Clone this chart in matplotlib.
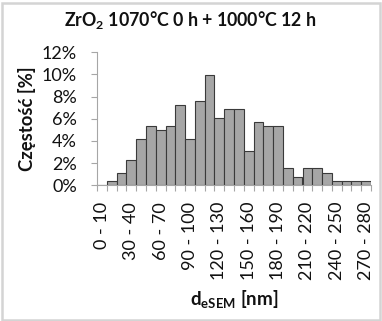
import matplotlib
matplotlib.use("Agg")
import matplotlib.pyplot as plt
from matplotlib.patches import Rectangle
from matplotlib.ticker import FixedLocator, NullFormatter

plt.rcParams['font.family'] = ['Lato', 'DejaVu Sans']
plt.rcParams['mathtext.fontset'] = 'custom'
plt.rcParams['mathtext.rm'] = 'Lato:bold'
plt.rcParams['mathtext.it'] = 'Lato:bold'
plt.rcParams['mathtext.bf'] = 'Lato:bold'

categories = [f"{a} - {a + 10}" for a in range(0, 280, 10)]
percent = [0.0, 0.38, 1.15, 2.29, 4.20, 5.34, 4.96, 5.34, 7.25, 4.20,
           7.63, 9.92, 6.11, 6.87, 6.87, 3.05, 5.73, 5.34, 5.34, 1.53,
           0.76, 1.53, 1.53, 1.15, 0.38, 0.38, 0.38, 0.38]
yticks = [0, 2, 4, 6, 8, 10, 12]
title = "ZrO$_2$ 1070°C 0 h + 1000°C 12 h"
xlabel = "d$_{\\rm eSEM}$ [nm]"
ylabel = "Częstość [%]"

W, H = 382, 321
fig = plt.figure(figsize=(W / 100, H / 100), dpi=100)
fig.patch.set_facecolor('white')

# outer frame
fig.patches.append(Rectangle((1.5 / W, 1.5 / H), (W - 4) / W, (H - 4) / H,
                             transform=fig.transFigure, fill=False,
                             edgecolor='#D4D4D4', linewidth=1.8))

ax = fig.add_axes([97 / W, (H - 185.3) / H, (371 - 97) / W, (185.3 - 52.3) / H])
x = list(range(len(categories)))
ax.bar(x, percent, width=1.0, color='#A6A6A6', edgecolor='#3A3A3A', linewidth=0.8)

ax.set_xlim(-0.5, len(categories) - 0.5)
ax.set_ylim(0, 12)
ax.set_yticks(yticks)
ax.set_yticklabels([f"{v}%" for v in yticks])

ax.set_xticks(x[::3])
ax.set_xticklabels(categories[::3], rotation=90)
ax.xaxis.set_minor_locator(FixedLocator([i - 0.5 for i in range(len(categories) + 1)]))
ax.xaxis.set_minor_formatter(NullFormatter())

for s in ['top', 'right']:
    ax.spines[s].set_visible(False)
for s in ['left', 'bottom']:
    ax.spines[s].set_color('#A6A6A6')
    ax.spines[s].set_linewidth(0.8)

ax.tick_params(axis='y', which='major', direction='out', length=4.5, width=0.8,
               color='#A6A6A6', labelsize=13.0, pad=10, labelcolor='#111111')
ax.tick_params(axis='x', which='major', length=0, labelsize=13.0, pad=12,
               labelcolor='#111111')
ax.tick_params(axis='x', which='minor', direction='out', length=4.5, width=0.8,
               color='#A6A6A6')

fig.text(190 / W, 1 - 20 / H, title, ha='center', va='center',
         fontsize=12.8, fontweight='bold', color='#111111')
fig.text(234 / W, 1 - 299 / H, xlabel, ha='center', va='center',
         fontsize=13.5, fontweight='bold', color='#111111')
fig.text(27 / W, 1 - 119 / H, ylabel, ha='center', va='center', rotation=90,
         fontsize=13.3, fontweight='bold', color='#111111')

fig.savefig('out.png', dpi=100, facecolor='white')
